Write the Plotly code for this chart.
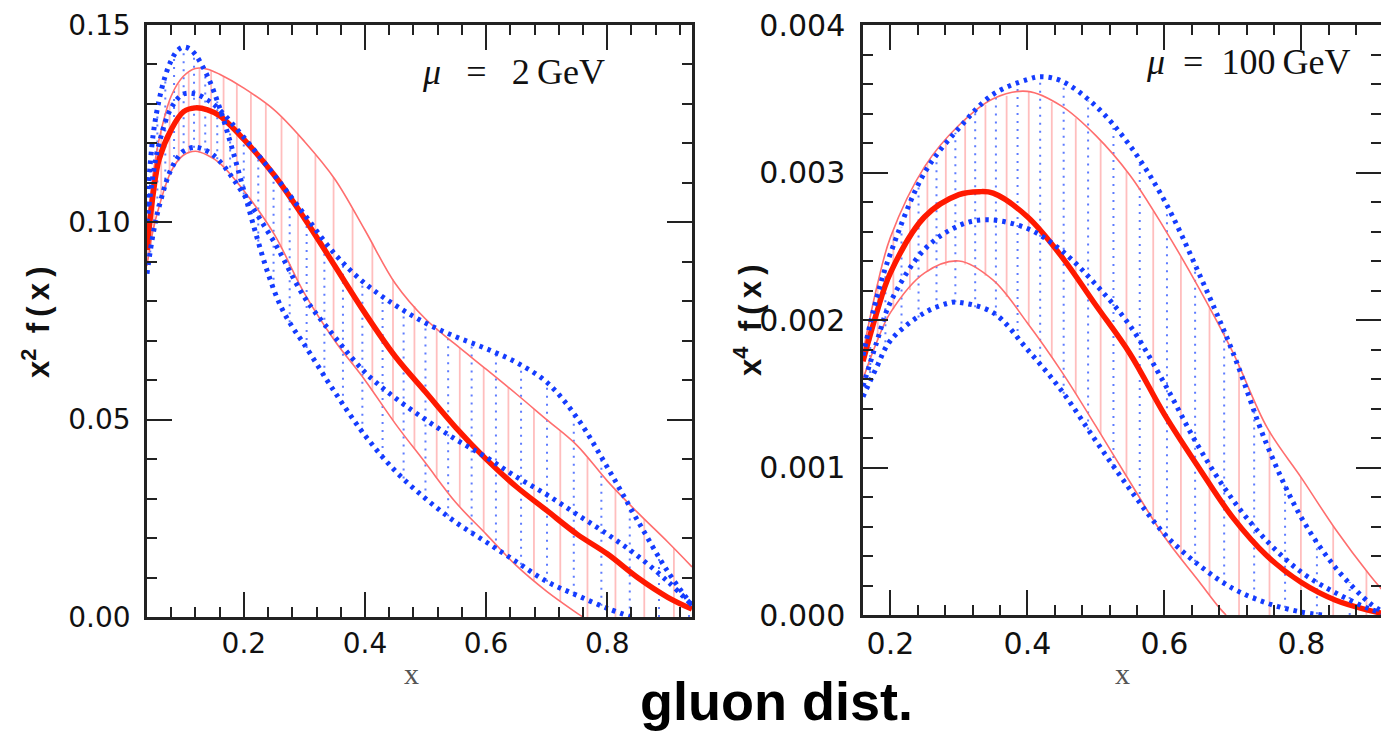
import numpy as np
import plotly.graph_objects as go

# ---------------- data: left panel (mu = 2 GeV), x^2 f(x) ----------------
L_red_c_x = [0.04, 0.05, 0.06, 0.08, 0.10, 0.12, 0.14, 0.16, 0.20, 0.25, 0.30, 0.35, 0.40, 0.45,
             0.50, 0.55, 0.60, 0.65, 0.70, 0.75, 0.80, 0.85, 0.90, 0.94]
L_red_c_y = [0.093, 0.107, 0.116, 0.1235, 0.128, 0.129, 0.1285, 0.127, 0.121, 0.112, 0.101, 0.089,
             0.077, 0.066, 0.057, 0.048, 0.040, 0.033, 0.027, 0.021, 0.016, 0.010, 0.005, 0.002]

L_red_u_x = [0.04, 0.05, 0.06, 0.08, 0.10, 0.12, 0.14, 0.16, 0.20, 0.25, 0.30, 0.35, 0.40, 0.45,
             0.50, 0.55, 0.60, 0.65, 0.70, 0.75, 0.80, 0.85, 0.90, 0.94]
L_red_u_y = [0.098, 0.112, 0.121, 0.132, 0.137, 0.139, 0.1388, 0.1375, 0.134, 0.1285, 0.1205, 0.111,
             0.098, 0.0845, 0.0755, 0.069, 0.0628, 0.0565, 0.050, 0.0435, 0.0345, 0.0265, 0.019, 0.0127]

L_red_l_x = [0.04, 0.05, 0.06, 0.08, 0.10, 0.12, 0.14, 0.16, 0.20, 0.25, 0.30, 0.35, 0.40, 0.45,
             0.50, 0.55, 0.60, 0.65, 0.70, 0.75, 0.76]
L_red_l_y = [0.089, 0.098, 0.104, 0.113, 0.117, 0.118, 0.117, 0.115, 0.108, 0.097, 0.082, 0.070,
             0.060, 0.049, 0.039, 0.029, 0.021, 0.013, 0.0065, 0.001, 0.0]

L_blue1_x = [0.04, 0.05, 0.06, 0.07, 0.08, 0.09, 0.10, 0.11, 0.12, 0.14, 0.16, 0.18, 0.20, 0.22,
             0.24, 0.26, 0.28, 0.30, 0.35, 0.40, 0.45, 0.50, 0.55, 0.60, 0.65, 0.70, 0.75, 0.80, 0.84]
L_blue1_y = [0.104, 0.122, 0.131, 0.137, 0.141, 0.1435, 0.1444, 0.144, 0.1425, 0.137, 0.129, 0.119,
             0.108, 0.097, 0.087, 0.079, 0.0735, 0.069, 0.057, 0.046, 0.037, 0.030, 0.024, 0.019,
             0.014, 0.009, 0.0055, 0.0022, 0.0]

L_blue2_x = [0.04, 0.05, 0.06, 0.08, 0.10, 0.12, 0.14, 0.16, 0.20, 0.25, 0.30, 0.35, 0.40, 0.45,
             0.50, 0.55, 0.60, 0.65, 0.70, 0.75, 0.80, 0.85, 0.90, 0.94]
L_blue2_y = [0.100, 0.112, 0.120, 0.129, 0.1325, 0.1325, 0.131, 0.1285, 0.1215, 0.112, 0.102, 0.092,
             0.0845, 0.079, 0.0745, 0.071, 0.068, 0.0645, 0.0595, 0.0505, 0.038, 0.0245, 0.0115, 0.003]

L_blue3_x = [0.04, 0.05, 0.06, 0.08, 0.10, 0.12, 0.14, 0.16, 0.20, 0.25, 0.30, 0.35, 0.40, 0.45,
             0.50, 0.55, 0.60, 0.65, 0.70, 0.75, 0.80, 0.85, 0.90, 0.94]
L_blue3_y = [0.087, 0.097, 0.104, 0.1135, 0.118, 0.119, 0.118, 0.1155, 0.107, 0.095, 0.081, 0.071,
             0.062, 0.0555, 0.050, 0.045, 0.0405, 0.0355, 0.031, 0.026, 0.021, 0.0155, 0.009, 0.003]

# ---------------- data: right panel (mu = 100 GeV), x^4 f(x) ----------------
R_red_c_x = [0.16, 0.18, 0.20, 0.25, 0.30, 0.33, 0.35, 0.40, 0.45, 0.50, 0.55, 0.60, 0.65, 0.70,
             0.75, 0.80, 0.85, 0.90, 0.92]
R_red_c_y = [0.00172, 0.00205, 0.00232, 0.00270, 0.00285, 0.00287, 0.00286, 0.00270, 0.00243,
             0.00210, 0.00177, 0.00136, 0.00100, 0.00066, 0.00040, 0.00022, 0.00010, 0.00003, 0.00001]

R_red_u_x = [0.16, 0.18, 0.20, 0.25, 0.30, 0.35, 0.40, 0.45, 0.50, 0.55, 0.60, 0.65, 0.70, 0.75,
             0.80, 0.85, 0.90, 0.92]
R_red_u_y = [0.00178, 0.00222, 0.00256, 0.00304, 0.00332, 0.00350, 0.00355, 0.00345, 0.00325,
             0.00298, 0.00262, 0.00222, 0.00178, 0.00127, 0.00093, 0.00058, 0.00027, 0.00016]

R_red_l_x = [0.16, 0.18, 0.20, 0.25, 0.30, 0.35, 0.40, 0.45, 0.50, 0.55, 0.60, 0.65, 0.68, 0.69]
R_red_l_y = [0.00160, 0.00185, 0.00205, 0.00232, 0.00240, 0.00227, 0.00198, 0.00165, 0.00128,
             0.00090, 0.00053, 0.00023, 0.00005, 0.0]

R_blue1_x = [0.16, 0.18, 0.20, 0.25, 0.30, 0.35, 0.40, 0.42, 0.45, 0.50, 0.55, 0.60, 0.65, 0.70,
             0.75, 0.80, 0.85, 0.90, 0.92]
R_blue1_y = [0.00176, 0.00215, 0.00245, 0.00300, 0.00330, 0.00353, 0.00363, 0.00365, 0.00362,
             0.00345, 0.00318, 0.00281, 0.00232, 0.00178, 0.00115, 0.00066, 0.00032, 0.00008, 0.00002]

R_blue2_x = [0.16, 0.18, 0.20, 0.25, 0.30, 0.34, 0.40, 0.45, 0.50, 0.55, 0.60, 0.65, 0.70, 0.75,
             0.80, 0.85, 0.90, 0.92]
R_blue2_y = [0.00155, 0.00185, 0.00212, 0.00248, 0.00264, 0.00268, 0.00262, 0.00247, 0.00224,
             0.00196, 0.00157, 0.00114, 0.00078, 0.00050, 0.00029, 0.00015, 0.00004, 0.00001]

R_blue3_x = [0.16, 0.18, 0.20, 0.25, 0.29, 0.30, 0.35, 0.40, 0.45, 0.50, 0.55, 0.60, 0.65, 0.70,
             0.75, 0.80, 0.83]
R_blue3_y = [0.00148, 0.00168, 0.00186, 0.00205, 0.00212, 0.00212, 0.00205, 0.00180, 0.00152,
             0.00118, 0.00085, 0.00055, 0.00034, 0.00018, 0.00008, 0.00002, 0.0]

# ---------------- axis / tick labels ----------------
L_xrange = [0.04, 0.94]
L_yrange = [0.0, 0.15]
R_xrange = [0.16, 0.9162]
R_yrange = [0.0, 0.004]
L_title = "<i>μ</i>\u2002\u2009=\u2002\u20092\u2009GeV"
R_title = "<i>μ</i>\u2002=\u2002100\u2009GeV"
L_ylabel = "<b>x<sup>2</sup>\u2002f\u2009(\u2009x\u2009)</b>"
R_ylabel = "<b>x<sup>4</sup>\u2002f\u2009(\u2009x\u2009)</b>"
xlabel = "x"
caption = "<b>gluon dist.</b>"

# ---------------- styles ----------------
W, H = 1381, 732
BLUE = "rgb(20,60,255)"
RED = "rgb(255,25,0)"
RED_THIN = "rgb(255,110,110)"
PINK = "rgb(255,190,190)"
BLUE_HATCH = "rgba(40,80,255,0.75)"
HATCH_STEP = 0.026  # hatch spacing in sqrt(x)


def hatch(xmin, xmax, offset, top_fn, bot_fn):
    s = np.arange(np.sqrt(xmin) + offset, np.sqrt(xmax), HATCH_STEP)
    hx, hy = [], []
    for v in s ** 2:
        t, b = top_fn(v), bot_fn(v)
        if t > b:
            hx += [v, v, None]
            hy += [b, t, None]
    return hx, hy


def envelope(curves, fn):
    def f(v):
        return fn([np.interp(v, cx, cy) for cx, cy in curves])
    return f


fig = go.Figure()


def add_panel(xa, ya, xr, red_u, red_l, red_c, blues):
    rx, ry = hatch(xr[0], xr[1], 0.0,
                   lambda v: np.interp(v, *red_u), lambda v: np.interp(v, *red_l))
    fig.add_trace(go.Scatter(x=rx, y=ry, mode="lines", xaxis=xa, yaxis=ya,
                             line=dict(color=PINK, width=1.8), hoverinfo="skip"))
    bx, by = hatch(xr[0], xr[1], HATCH_STEP / 2,
                   envelope(blues, max), envelope(blues, min))
    fig.add_trace(go.Scatter(x=bx, y=by, mode="lines", xaxis=xa, yaxis=ya,
                             line=dict(color=BLUE_HATCH, width=2, dash="2px,6px"),
                             hoverinfo="skip"))
    for cx, cy in (red_u, red_l):
        fig.add_trace(go.Scatter(x=cx, y=cy, mode="lines", xaxis=xa, yaxis=ya,
                                 line=dict(color=RED_THIN, width=1.6, shape="spline")))
    fig.add_trace(go.Scatter(x=red_c[0], y=red_c[1], mode="lines", xaxis=xa, yaxis=ya,
                             line=dict(color=RED, width=5.5, shape="spline")))
    for cx, cy in blues:
        fig.add_trace(go.Scatter(x=cx, y=cy, mode="lines", xaxis=xa, yaxis=ya,
                                 line=dict(color=BLUE, width=5, dash="3.5px,5px",
                                           shape="spline")))


add_panel("x", "y", L_xrange, (L_red_u_x, L_red_u_y), (L_red_l_x, L_red_l_y),
          (L_red_c_x, L_red_c_y),
          [(L_blue1_x, L_blue1_y), (L_blue2_x, L_blue2_y), (L_blue3_x, L_blue3_y)])
add_panel("x2", "y2", R_xrange, (R_red_u_x, R_red_u_y), (R_red_l_x, R_red_l_y),
          (R_red_c_x, R_red_c_y),
          [(R_blue1_x, R_blue1_y), (R_blue2_x, R_blue2_y), (R_blue3_x, R_blue3_y)])


def ax(size, **kw):
    d = dict(showline=True, linecolor="#222", linewidth=2.5, mirror="ticks",
             ticks="inside", ticklen=25, tickwidth=2, tickcolor="#222",
             showgrid=False, zeroline=False, automargin=False,
             tickfont=dict(family="DejaVu Sans", size=size, color="#111"),
             minor=dict(ticks="inside", ticklen=10, tickwidth=2, tickcolor="#222",
                        showgrid=False))
    d.update(kw)
    return d


def px_x(p):
    return p / W


def px_y(p):
    return 1 - p / H


fig.update_layout(
    width=W, height=H, margin=dict(l=0, r=0, t=0, b=0, autoexpand=False),
    paper_bgcolor="white", plot_bgcolor="white", showlegend=False,
    xaxis=ax(28, domain=[px_x(147), px_x(692)], range=L_xrange, dtick=0.2, tick0=0,
             tickformat=".1f", anchor="y", ticklabelstandoff=0,
             minor_dtick=0.04, minor_tick0=0),
    yaxis=ax(28, domain=[px_y(617), px_y(25)], range=L_yrange, dtick=0.05, tick0=0,
             tickformat=".2f", anchor="x", ticklabelstandoff=8,
             minor_dtick=0.01, minor_tick0=0),
    xaxis2=ax(30, domain=[px_x(863), 1.0], range=R_xrange, dtick=0.2, tick0=0,
              tickformat=".1f", anchor="y2", ticklabelstandoff=0,
              minor_dtick=0.04, minor_tick0=0),
    yaxis2=ax(30, domain=[px_y(615), px_y(25)], range=R_yrange, dtick=0.001, tick0=0,
              tickformat=".3f", anchor="x2", ticklabelstandoff=9,
              minor_dtick=0.0002, minor_tick0=0),
)


def note(text, x, y, family, size, color, angle=0):
    return dict(text=text, x=px_x(x), y=px_y(y), xref="paper", yref="paper",
                xanchor="center", yanchor="middle", showarrow=False, textangle=angle,
                font=dict(family=family, size=size, color=color))


ann = [
    note(L_title, 513, 72, "Liberation Serif", 36, "#111"),
    note(R_title, 1248, 62, "Liberation Serif", 36, "#111"),
    note(L_ylabel, 36, 322, "Liberation Sans", 31, "#111", -90),
    note(R_ylabel, 748, 320, "Liberation Sans", 31, "#111", -90),
    note(xlabel, 411, 673, "Liberation Serif", 30, "#555"),
    note(xlabel, 1122, 673, "Liberation Serif", 30, "#555"),
    note(caption, 776, 701, "Liberation Sans", 54, "#000"),
]
fig.update_layout(annotations=ann)

fig.write_html("out.html")
